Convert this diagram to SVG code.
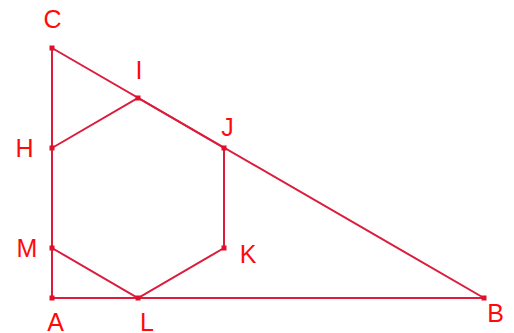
<svg xmlns="http://www.w3.org/2000/svg" width="514" height="333" viewBox="0 0 514 333">
<style>
.ln{stroke:#dc1c3c;stroke-width:2;fill:none;stroke-linecap:round}
.pt{fill:#e0102c}
.lb{font-family:"Liberation Sans",Arial,sans-serif;font-size:25px;fill:#ff0a0a;text-anchor:middle}
</style>
<rect width="514" height="333" fill="#ffffff"/>
<g id="connectors">
<line class="ln" x1="52" y1="298" x2="484" y2="298"/>
<line class="ln" x1="52" y1="298" x2="52" y2="48"/>
<line class="ln" x1="52" y1="48" x2="484" y2="298"/>
<polyline class="ln" points="52,148 138,98 224,148 224,248 138,298 52,248"/>
</g>
<g id="A"><rect class="pt" x="49.5" y="295.5" width="5" height="5"/><text class="lb" x="55.5" y="331">A</text></g>
<g id="B"><rect class="pt" x="481.5" y="295.5" width="5" height="5"/><text class="lb" x="495.5" y="322">B</text></g>
<g id="C"><rect class="pt" x="49.5" y="45.5" width="5" height="5"/><text class="lb" x="52.5" y="28">C</text></g>
<g id="H"><rect class="pt" x="49.5" y="145.5" width="5" height="5"/><text class="lb" x="24.5" y="157">H</text></g>
<g id="I"><rect class="pt" x="135.5" y="95.5" width="5" height="5"/><text class="lb" x="139" y="79">I</text></g>
<g id="J"><rect class="pt" x="221.5" y="145.5" width="5" height="5"/><text class="lb" x="227.5" y="136">J</text></g>
<g id="K"><rect class="pt" x="221.5" y="245.5" width="5" height="5"/><text class="lb" x="248" y="263">K</text></g>
<g id="L"><rect class="pt" x="135.5" y="295.5" width="5" height="5"/><text class="lb" x="147" y="331">L</text></g>
<g id="M"><rect class="pt" x="49.5" y="245.5" width="5" height="5"/><text class="lb" x="27" y="257">M</text></g>
</svg>
